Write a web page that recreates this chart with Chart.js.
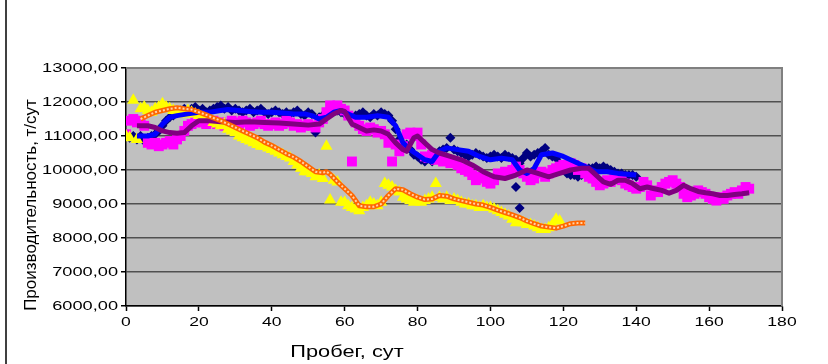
<!DOCTYPE html>
<html>
<head>
<meta charset="utf-8">
<script src="https://cdn.jsdelivr.net/npm/chart.js@4.4.0/dist/chart.umd.min.js"></script>
<style>
  html, body { margin: 0; padding: 0; background: #fff; }
  #wrap { position: relative; width: 828px; height: 364px; }
</style>
</head>
<body>
<div id="wrap"><canvas id="prodChart" width="828" height="364"></canvas></div>
<script>
// ticks
const xTicks = [0, 20, 40, 60, 80, 100, 120, 140, 160, 180];
const yTicks = [6000, 7000, 8000, 9000, 10000, 11000, 12000, 13000];
const xTitle = 'Пробег, сут';
const yTitle = 'Производительность, т/сут';

// navy diamonds, one value per day starting at day 0
const navyVals = [
  11000, 10950, 11000, 10900, 11000, 10850, 10950, 11000, 11050, 11150,
  11300, 11450, 11550, 11600, 11700, 11750, 11800, 11750, 11800, 11850,
  11750, 11800, 11700, 11750, 11800, 11850, 11900, 11800, 11850, 11750,
  11800, 11750, 11700, 11750, 11800, 11700, 11750, 11800, 11700, 11650,
  11700, 11750, 11700, 11650, 11700, 11650, 11700, 11750, 11650, 11600,
  11700, 11650, 11100, 11550, 11600, 11700, 11750, 11800, 11750, 11700,
  11650, 11600, 11550, 11600, 11650, 11700, 11600, 11550, 11650, 11600,
  11700, 11650, 11600, 11450, 11200, 10900, 10700, 10750, 10600, 10450,
  10400, 10300, 10250, 10350, 10250, 10400, 10550, 10600, 10650, 10950,
  10600, 10550, 10500, 10450, 10400, 10450, 10500, 10450, 10400, 10350,
  10400, 10450, 10400, 10350, 10450, 10400, 10350, 10300, 10200, 10350,
  10500, 10400, 10450, 10500, 10550, 10650, 10450, 10400, 10350, 10200,
  10000, 9900, 9850, 9850, 9800, 9850, 9950, 10050, 10050, 10100,
  10050, 10100, 10050, 10000, 9950, 9900, 9900, 9850, 9850, 9850, 9800
];
const navyOutX = [107, 108];
const navyOutY = [9500, 8880];

// blue line (average of navy)
const blueX = [3, 6, 8, 10, 12, 14, 17, 20, 23, 26, 28, 31, 34, 37, 40, 43, 46, 49, 51, 53,
  55, 57, 59, 61, 63, 66, 69, 72, 74, 76, 78, 80, 82, 84, 86, 88, 91, 94, 97, 100,
  103, 106, 108, 110, 112, 114, 117, 120, 123, 126, 129, 132, 135, 138, 140];
const blueY = [11000, 11000, 11050, 11350, 11550, 11600, 11650, 11700, 11700, 11750,
  11780, 11750, 11720, 11700, 11700, 11680, 11650, 11650, 11600, 11500,
  11550, 11700, 11750, 11650, 11550, 11550, 11600, 11550, 11300, 10800,
  10600, 10450, 10300, 10250, 10550, 10650, 10600, 10550, 10400, 10300,
  10350, 10300, 10000, 9900, 10050, 10450, 10500, 10400, 10250, 10100,
  9950, 9950, 9900, 9870, 9850];

// magenta squares, one value per day starting at day 0
const pinkVals = [
  11050, 11450, 11500, 11400, 11450, 11300, 10800, 10750, 10800, 10700,
  10750, 10800, 10850, 10750, 10900, 11000, 11150, 11300, 11350, 11400,
  11450, 11400, 11350, 11400, 11450, 11350, 11400, 11300, 11350, 11450,
  11400, 11350, 11450, 11400, 11300, 11350, 11400, 11450, 11350, 11300,
  11350, 11400, 11300, 11350, 11450, 11400, 11300, 11350, 11250, 11300,
  11350, 11300, 11250, 11400, 11500, 11700, 11900, 11850, 11900, 11800,
  11750, 11600, 10250, 11400, 11300, 11200, 11150, 11250, 11200, 11100,
  11150, 11050, 10800, 10250, 10750, 10550, 10700, 11050, 11100, 11000,
  11100, 10750, 10400, 10350, 10450, 10300, 10350, 10250, 10300, 10200,
  10250, 10150, 10050, 10000, 9950, 9850, 9700, 9800, 9750, 9650,
  9600, 9700, 9900, 9850, 9950, 9900, 10000, 10100, 10000, 9900,
  9800, 9700, 9750, 9900, 9950, 9800, 9900, 10000, 10050, 10100,
  10150, 10100, 10200, 10150, 10000, 10050, 9900, 9800, 9750, 9650,
  9550, 9600, 9700, 9650, 9750, 9800, 9700, 9600, 9550, 9500,
  9450, 9500, 9650, 9550, 9250, 9400, 9350, 9500, 9600, 9650,
  9700, 9600, 9500, 9300, 9200, 9250, 9300, 9400, 9350, 9300,
  9200, 9150, 9100, 9200, 9150, 9250, 9300, 9350, 9300, 9400, 9500, 9450
];

// purple line (average of magenta)
const purpleX = [3, 6, 8, 10, 12, 14, 16, 18, 20, 23, 26, 30, 34, 38, 42, 46, 50, 53, 55, 57,
  59, 60, 62, 64, 66, 68, 70, 72, 74, 76, 77, 79, 80, 82, 84, 86, 89, 92, 95, 98,
  101, 104, 107, 110, 113, 116, 119, 122, 125, 127, 129, 131, 133, 135, 137, 139, 141, 143, 145, 147,
  149, 151, 153, 155, 157, 159, 161, 163, 165, 167, 169, 171];
const purpleY = [11300, 11300, 11250, 11150, 11100, 11080, 11100, 11300, 11450, 11450,
  11420, 11400, 11420, 11400, 11380, 11350, 11320, 11350, 11500, 11650,
  11750, 11720, 11350, 11250, 11150, 11180, 11150, 11050, 10800, 10600,
  10550, 10950, 11000, 10800, 10600, 10500, 10400, 10300, 10150, 9950,
  9800, 9750, 9850, 10000, 9900, 9800, 9900, 10000, 10050, 10050,
  9850, 9650, 9580, 9700, 9700, 9600, 9450, 9500, 9450, 9400,
  9320, 9400, 9550, 9450, 9370, 9330, 9300, 9250, 9250, 9280, 9300, 9330];

// yellow triangles, one value per day starting at day 0
const yellowVals = [
  11000, 10950, 12050, 10900, 11800, 11850, 11750, 11700, 11800, 11850,
  11950, 11850, 11800, 11750, 11700, 11700, 11650, 11750, 11700, 11650,
  11600, 11550, 11500, 11550, 11400, 11350, 11300, 11350, 11200, 11150,
  11100, 11000, 10950, 10900, 10850, 10800, 10750, 10700, 10700, 10650,
  10600, 10550, 10500, 10450, 10400, 10350, 10250, 10150, 10050, 9950,
  9950, 9900, 9800, 9850, 9750, 10700, 9120, 9700, 9650, 9050,
  9050, 8950, 8900, 8850, 8800, 8900, 8950, 9050, 9000, 8950,
  9050, 9600, 9550, 9500, 9400, 9350, 9200, 9150, 9100, 9050,
  9100, 9050, 9100, 9150, 9200, 9600, 9200, 9150, 9200, 9100,
  9150, 9100, 9050, 9000, 9000, 8950, 8950, 8900, 8950, 8900,
  8900, 8850, 8800, 8750, 8700, 8650, 8550, 8450, 8500, 8450,
  8400, 8400, 8350, 8300, 8250, 8250, 8300, 8400, 8550, 8500
];

// orange line (average of yellow)
const orangeX = [4, 6, 8, 10, 12, 14, 16, 18, 20, 22, 24, 26, 28, 30, 32, 34, 36, 38, 40, 42,
  44, 46, 48, 50, 52, 54, 55, 56, 58, 60, 62, 64, 66, 68, 70, 72, 74, 76, 78, 80,
  82, 84, 86, 88, 90, 92, 94, 96, 98, 100, 102, 104, 106, 108, 110, 112, 114, 116, 118, 120,
  122, 124, 126];
const orangeY = [11500, 11600, 11700, 11750, 11800, 11830, 11800, 11780, 11700, 11620,
  11530, 11450, 11350, 11250, 11150, 11050, 10950, 10820, 10720, 10600,
  10480, 10380, 10250, 10100, 9950, 9920, 9950, 9880, 9650, 9450,
  9250, 8950, 8920, 8920, 9000, 9250, 9450, 9420, 9300, 9200,
  9130, 9150, 9250, 9230, 9150, 9100, 9050, 9000, 8970, 8900,
  8820, 8750, 8680, 8600, 8500, 8420, 8350, 8320, 8290, 8350,
  8420, 8440, 8440];

const byDay = vals => vals.map((v, i) => ({ x: i, y: v }));
const pairs = (xs, ys) => xs.map((x, i) => ({ x: x, y: ys[i] }));

const fmtY = v => v.toFixed(2).replace('.', ',');

// background, frame, stretched labels
const decorPlugin = {
  id: 'decor',
  beforeDraw(chart) {
    const { ctx, chartArea: a } = chart;
    ctx.save();
    ctx.fillStyle = '#ffffff';
    ctx.fillRect(0, 0, chart.width, chart.height);
    ctx.fillStyle = '#c0c0c0';
    ctx.fillRect(a.left, a.top, a.right - a.left, a.bottom - a.top);
    ctx.strokeStyle = '#000';
    ctx.lineWidth = 1.5;
    ctx.beginPath();
    ctx.moveTo(6, 0);
    ctx.lineTo(6, chart.height);
    ctx.stroke();
    ctx.restore();
  },
  beforeDatasetsDraw(chart) {
    const { ctx, chartArea: a } = chart;
    ctx.save();
    ctx.strokeStyle = '#808080';
    ctx.lineWidth = 2;
    ctx.beginPath();
    ctx.moveTo(a.left, a.top);
    ctx.lineTo(a.right, a.top);
    ctx.lineTo(a.right, a.bottom);
    ctx.stroke();
    ctx.restore();
  },
  afterDraw(chart) {
    const { ctx, scales } = chart;
    ctx.save();
    ctx.fillStyle = '#000';
    ctx.font = '13px "Liberation Sans", Arial, sans-serif';
    ctx.textBaseline = 'middle';

    yTicks.forEach(v => {
      const y = scales.y.getPixelForValue(v);
      ctx.save();
      ctx.translate(118, y + 0.5);
      ctx.scale(1.4, 1);
      ctx.textAlign = 'right';
      ctx.fillText(fmtY(v), 0, 0);
      ctx.restore();
    });

    xTicks.forEach(v => {
      const x = scales.x.getPixelForValue(v);
      ctx.save();
      ctx.translate(x, 322);
      ctx.scale(1.35, 1);
      ctx.textAlign = 'center';
      ctx.fillText(String(v), 0, 0);
      ctx.restore();
    });

    ctx.font = '17px "Liberation Sans", Arial, sans-serif';
    ctx.save();
    ctx.translate(347, 352);
    ctx.scale(1.28, 1);
    ctx.textAlign = 'center';
    ctx.fillText(xTitle, 0, 0);
    ctx.restore();

    ctx.save();
    ctx.translate(31, 205);
    ctx.rotate(-Math.PI / 2);
    ctx.textAlign = 'center';
    ctx.fillText(yTitle, 0, 0);
    ctx.restore();

    ctx.restore();
  }
};

const ctx = document.getElementById('prodChart').getContext('2d');
new Chart(ctx, {
  type: 'scatter',
  data: {
    datasets: [
      {
        label: 'dots',
        data: pairs(orangeX, orangeY),
        showLine: true,
        borderColor: '#ffd2a8',
        borderWidth: 2,
        borderDash: [2, 2],
        pointRadius: 0,
        order: 0
      },
      {
        label: 'orange',
        data: pairs(orangeX, orangeY),
        showLine: true,
        borderColor: '#ff6600',
        borderWidth: 5,
        borderJoinStyle: 'round',
        pointRadius: 0,
        order: 1
      },
      {
        label: 'purple',
        data: pairs(purpleX, purpleY),
        showLine: true,
        borderColor: '#800080',
        borderWidth: 5,
        borderJoinStyle: 'round',
        pointRadius: 0,
        order: 2
      },
      {
        label: 'blue',
        data: pairs(blueX, blueY),
        showLine: true,
        borderColor: '#0000ff',
        borderWidth: 5,
        borderJoinStyle: 'round',
        pointRadius: 0,
        order: 3
      },
      {
        label: 'yellow',
        data: byDay(yellowVals),
        pointStyle: 'triangle',
        pointRadius: 7,
        backgroundColor: '#ffff00',
        borderWidth: 0,
        order: 4
      },
      {
        label: 'magenta',
        data: byDay(pinkVals),
        pointStyle: 'rect',
        pointRadius: 7,
        backgroundColor: '#ff00ff',
        borderWidth: 0,
        order: 5
      },
      {
        label: 'navy',
        data: byDay(navyVals).concat(pairs(navyOutX, navyOutY)),
        pointStyle: 'rectRot',
        pointRadius: 5,
        backgroundColor: '#000080',
        borderWidth: 0,
        order: 6
      }
    ]
  },
  options: {
    responsive: false,
    animation: false,
    devicePixelRatio: 1,
    layout: { padding: { left: 121, right: 46, top: 68, bottom: 53 } },
    plugins: { legend: { display: false }, tooltip: { enabled: false } },
    elements: { line: { tension: 0 } },
    scales: {
      x: {
        type: 'linear',
        min: 0,
        max: 180,
        ticks: { display: false, stepSize: 20 },
        grid: { drawOnChartArea: false, drawTicks: true, tickLength: 5, tickColor: '#000', tickWidth: 1.5 },
        border: { display: true, color: '#000', width: 1.5 }
      },
      y: {
        min: 6000,
        max: 13000,
        ticks: { display: false, stepSize: 1000 },
        grid: { color: '#505050', lineWidth: 1.5, drawTicks: true, tickLength: 5, tickColor: '#000', tickWidth: 1.5 },
        border: { display: true, color: '#000', width: 1.5 }
      }
    }
  },
  plugins: [decorPlugin]
});
</script>
</body>
</html>
